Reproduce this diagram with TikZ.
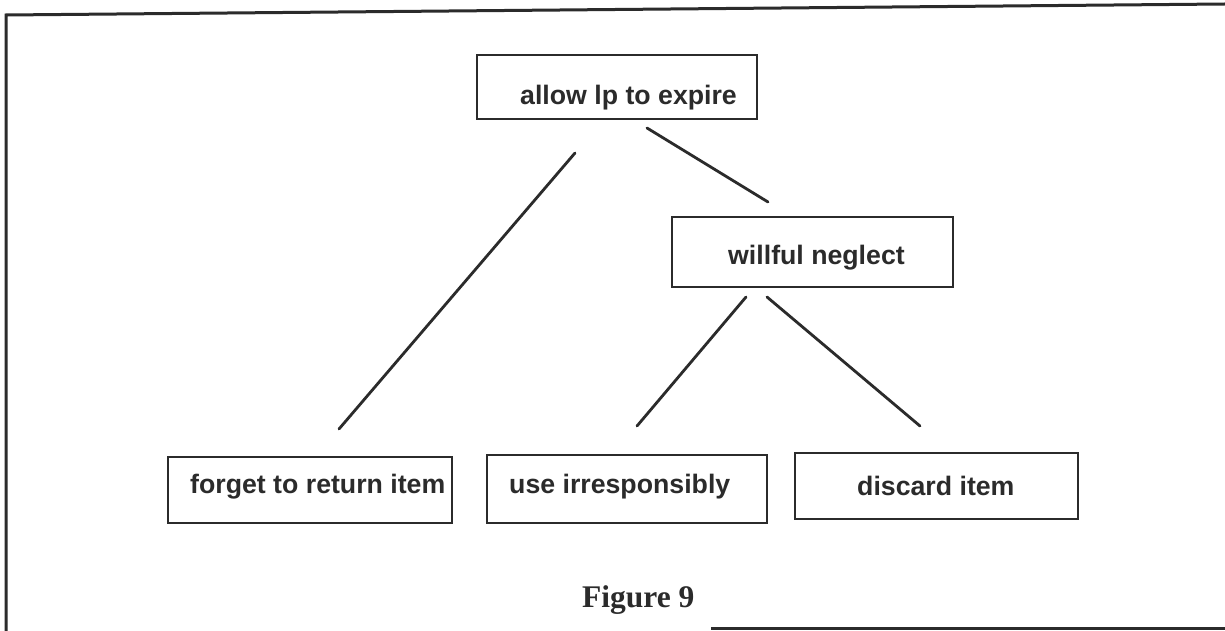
\documentclass[tikz,border=0pt]{standalone}
\usepackage{fontspec}
\setmainfont{Liberation Serif}
\newfontfamily\boxfont{Liberation Sans}
\definecolor{ink}{HTML}{2B2B2B}
\begin{document}
\begin{tikzpicture}[x=1pt,y=-1pt,
  boxnode/.style={draw=ink, line width=2.8pt, rectangle, inner sep=0pt},
  boxtext/.style={anchor=base west, inner sep=0pt, text=ink, font=\boxfont\bfseries\fontsize{26.7}{30}\selectfont},
  conn/.style={draw=ink, line width=2.8pt, line cap=round},
  frameline/.style={draw=ink, line width=3pt}]
\useasboundingbox (0,0) rectangle (1225,631);
\fill[white] (0,0) rectangle (1225,631);

% frame
\coordinate (fbl) at (6,631);
\coordinate (ftl) at (6,15);
\coordinate (ftr) at (1225,4);
\coordinate (fbs) at (711,628);
\coordinate (fbe) at (1225,628);
\draw[frameline] (fbl) -- (ftl) -- (ftr);
\draw[frameline] (fbs) -- (fbe);

% boxes
\node[boxnode, minimum width=280pt, minimum height=64pt] (top) at (617,87) {};
\node[boxnode, minimum width=281pt, minimum height=70pt] (will) at (812.5,252) {};
\node[boxnode, minimum width=284pt, minimum height=66pt] (forget) at (310,490) {};
\node[boxnode, minimum width=280pt, minimum height=68pt] (use) at (627,489) {};
\node[boxnode, minimum width=283pt, minimum height=66pt] (disc) at (936.5,486) {};

% texts
\node[boxtext] (topT) at (520,105) {allow lp to expire};
\node[boxtext] (willT) at (728,264) {willful neglect};
\node[boxtext] (forgetT) at (190,493) {forget to return item};
\node[boxtext] (useT) at (509,493) {use irresponsibly};
\node[boxtext] (discT) at (857,495) {discard item};

% connector end points
\coordinate (c1a) at (575,153);
\coordinate (c1b) at (339,429);
\coordinate (c2a) at (647,128);
\coordinate (c2b) at (768,202);
\coordinate (c3a) at (746,297);
\coordinate (c3b) at (637,426);
\coordinate (c4a) at (767,297);
\coordinate (c4b) at (920,426);
\draw[conn] (c1a) -- (c1b);
\draw[conn] (c2a) -- (c2b);
\draw[conn] (c3a) -- (c3b);
\draw[conn] (c4a) -- (c4b);

% caption
\node[anchor=base west, inner sep=0pt, text=ink, font=\bfseries\fontsize{31.5}{36}\selectfont] (cap) at (582,607) {Figure 9};
\end{tikzpicture}
\end{document}
